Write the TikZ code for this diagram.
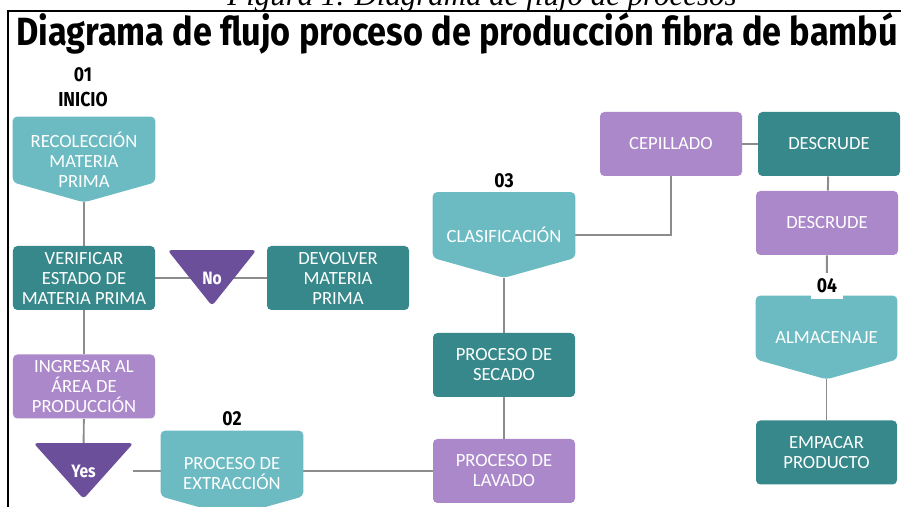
\documentclass[tikz,border=0pt]{standalone}
\usepackage{fontspec}
\setmainfont{Carlito}
\newfontfamily\headfont{Fira Sans}[FakeStretch=0.87]
\newfontfamily\capfont{Liberation Serif}

\definecolor{tealL}{HTML}{6CBBC2}
\definecolor{tealD}{HTML}{36888A}
\definecolor{lilac}{HTML}{AB88CA}
\definecolor{grape}{HTML}{6C4F9A}
\definecolor{wire}{HTML}{8C8C8C}

\pgfdeclarelayer{links}
\pgfdeclarelayer{shapes}
\pgfsetlayers{links,shapes,main}

\begin{document}
\begin{tikzpicture}
  % Define styles for boxes, tags, gates and labels
  \tikzset{
    box node/.style={rectangle, rounded corners=2.5pt, minimum width=2.84cm, minimum height=1.28cm,
      align=center, text=white, font=\fontsize{10.6}{11.4}\selectfont},
    tag node/.style={minimum width=2.84cm, minimum height=1.7cm, align=center, text=white,
      font=\fontsize{10.6}{11.4}\selectfont},
    gate node/.style={minimum height=1.1cm, text=white, font=\headfont\bfseries\fontsize{10.2}{12}\selectfont},
    number node/.style={anchor=base, font=\headfont\bfseries\fontsize{11.5}{13}\selectfont},
    link/.style={draw=wire, line width=1.1pt}
  }
  \useasboundingbox (0,0) rectangle (18.02,10.14);

  % Caption, title and frame
  \node[anchor=base, font=\capfont\itshape\fontsize{17.6}{20}\selectfont] (cap) at (9.64,10.03) {Figura 1. Diagrama de flujo de procesos};
  \node[anchor=base, font=\headfont\bfseries\fontsize{22.4}{26}\selectfont] (title) at (9.14,9.22) {Diagrama de flujo proceso de producción fibra de bambú};
  \draw[line width=0.9pt] (18.02,9.92) -- (0.16,9.92) -- (0.16,0);

  % First column
  \node[number node] (n01) at (1.66,8.5) {01};
  \node[number node] (ini) at (1.66,8.0) {INICIO};
  \node[tag node] (rec) at (1.68,6.95) {RECOLECCIÓN\\MATERIA\\PRIMA};
  \node[box node, fill=tealD] (ver) at (1.68,4.58) {VERIFICAR\\ESTADO DE\\MATERIA PRIMA};
  \node[gate node, minimum width=1.76cm] (no) at (4.24,4.58) {No};
  \node[box node, fill=tealD] (dev) at (6.76,4.58) {DEVOLVER\\MATERIA\\PRIMA};
  \node[box node, fill=lilac] (ing) at (1.68,2.41) {INGRESAR AL\\ÁREA DE\\PRODUCCIÓN};
  \node[gate node, minimum width=1.98cm] (yes) at (1.67,0.72) {Yes};

  % Second column
  \node[number node] (n02) at (4.64,1.62) {02};
  \node[tag node] (ext) at (4.64,0.67) {PROCESO DE\\EXTRACCIÓN};

  % Third column
  \node[number node] (n03) at (10.08,6.38) {03};
  \node[tag node] (cla) at (10.08,5.44) {CLASIFICACIÓN};
  \node[box node, fill=tealD] (sec) at (10.08,2.84) {PROCESO DE\\SECADO};
  \node[box node, fill=lilac] (lav) at (10.08,0.72) {PROCESO DE\\LAVADO};

  % Fourth column
  \node[box node, fill=lilac] (cep) at (13.42,7.26) {CEPILLADO};
  \node[box node, fill=tealD] (des1) at (16.58,7.26) {DESCRUDE};
  \node[box node, fill=lilac] (des2) at (16.54,5.68) {DESCRUDE};
  \node[tag node, minimum width=2.82cm, minimum height=1.66cm] (alm) at (16.53,3.39) {ALMACENAJE};
  \node[box node, fill=tealD, minimum width=2.82cm] (emp) at (16.53,1.09) {EMPACAR\\PRODUCTO};
  \node[number node, fill=white] (n04) at (16.54,4.28) {04};

  % Tag and gate shapes
  \begin{pgfonlayer}{shapes}
    \foreach \n in {rec,ext,cla,alm}
      \fill[tealL, rounded corners=2.5pt] (\n.north west) -- (\n.north east) -- ([yshift=0.4cm]\n.south east)
        -- (\n.south) -- ([yshift=0.4cm]\n.south west) -- cycle;
    \foreach \n in {no,yes}
      \fill[grape, rounded corners=2pt] (\n.north west) -- (\n.north east) -- (\n.south) -- cycle;
  \end{pgfonlayer}

  % Connectors
  \begin{pgfonlayer}{links}
    \draw[link] (rec) -- (ver);
    \draw[link] (ver) -- (dev);
    \draw[link] (ver) -- (ing);
    \draw[link] (ing) -- (yes);
    \draw[link] (yes) -- (yes -| ext);
    \draw[link] (yes -| ext) -- (yes -| lav);
    \draw[link] (lav) -- (sec);
    \draw[link] (sec) -- (cla);
    \draw[link] (cla) -| (cep);
    \draw[link] (cep) -- (des1);
    \draw[link] (des1) -- (des2);
    \draw[link] (des2) -- (alm);
    \draw[link] (alm) -- (emp);
  \end{pgfonlayer}
\end{tikzpicture}
\end{document}
